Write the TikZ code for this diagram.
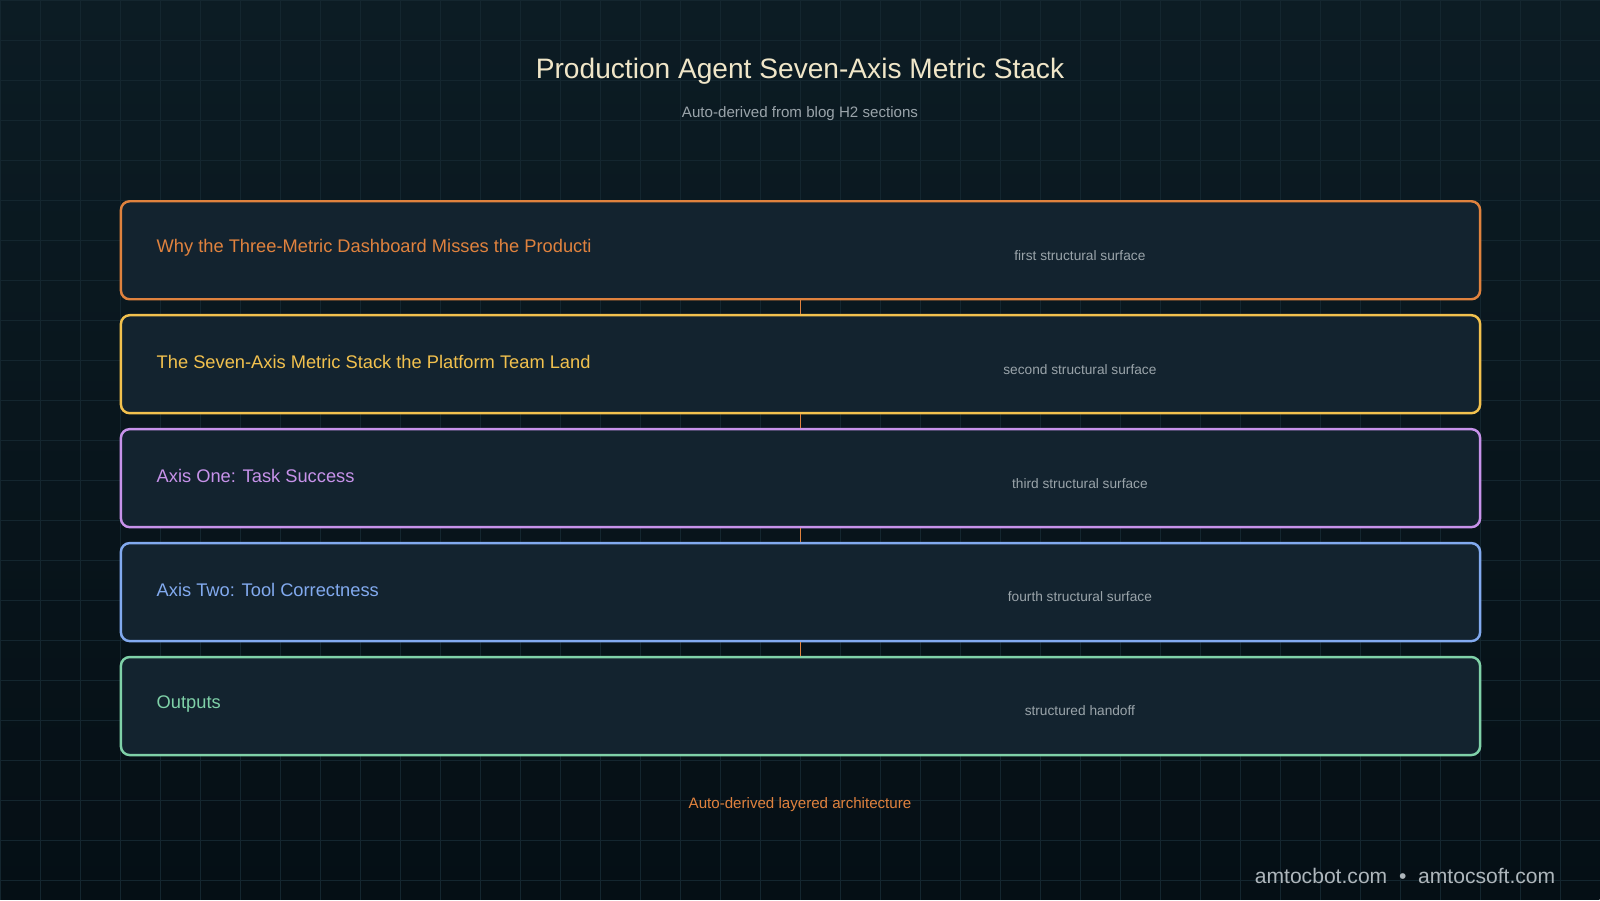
\documentclass[tikz,border=0pt]{standalone}
\usepackage{fontspec}
\setmainfont{Liberation Sans}
\usetikzlibrary{positioning}
\definecolor{bgtop}{HTML}{0C1C24}
\definecolor{bgbot}{HTML}{050F15}
\definecolor{boxfill}{HTML}{13232F}
\definecolor{gridc}{HTML}{14262F}
\definecolor{titlec}{HTML}{F0E6C8}
\definecolor{subc}{HTML}{9AA4AA}
\definecolor{cOrange}{HTML}{E0823E}
\definecolor{cYellow}{HTML}{F2C14E}
\definecolor{cPurple}{HTML}{C792EA}
\definecolor{cBlue}{HTML}{82AAEF}
\definecolor{cGreen}{HTML}{7FD1A8}

\begin{document}
\begin{tikzpicture}[
  x=0.01cm,y=-0.01cm,
  layer/.style={draw=#1,line width=0.7pt,rounded corners=2.5pt,fill=boxfill,
    minimum width=13.59cm,minimum height=0.98cm,inner sep=0pt},
  heading/.style={font=\fontsize{5.2}{6}\selectfont,anchor=west},
  note/.style={font=\fontsize{3.9}{5}\selectfont,text=subc},
  link/.style={draw=cOrange,line width=0.4pt}]

  % background and grid
  \shade[top color=bgtop,bottom color=bgbot] (0,0) rectangle (1600,900);
  \draw[gridc,line width=0.2pt] (0,0) grid[step=0.4cm] (1600,900);
  \useasboundingbox (0,0) rectangle (1600,900);

  \node[text=titlec,font=\fontsize{8}{9}\selectfont] (title) at (800,71)
    {Production Agent Seven-Axis Metric Stack};
  \node[note,font=\fontsize{4.3}{5}\selectfont] (subtitle) at (800,113)
    {Auto-derived from blog H2 sections};

  % the layers
  \foreach \i/\col/\head/\sub in {
      1/cOrange/Why the Three-Metric Dashboard Misses the Producti/first structural surface,
      2/cYellow/The Seven-Axis Metric Stack the Platform Team Land/second structural surface,
      3/cPurple/Axis One: Task Success/third structural surface,
      4/cBlue/Axis Two: Tool Correctness/fourth structural surface,
      5/cGreen/Outputs/structured handoff}{
    \node[layer=\col] (b\i) at (800.5,{250+114*(\i-1)}) {};
    \node[heading,text=\col] (h\i) at (144,{248+114*(\i-1)}) {\head};
    \node[note] (s\i) at (1080,{255+114*(\i-1)}) {\sub};
  }

  \foreach \a/\b in {1/2,2/3,3/4,4/5}
    \draw[link] (b\a.south) -- (b\b.north);

  \node[text=cOrange,font=\fontsize{4.3}{5}\selectfont] (caption) at (800,805)
    {Auto-derived layered architecture};
  \node[text=subc!80!white,font=\fontsize{6}{7}\selectfont,anchor=east] (url) at (1568,876)
    {amtocbot.com \ \textbullet\ \ amtocsoft.com};
\end{tikzpicture}
\end{document}
